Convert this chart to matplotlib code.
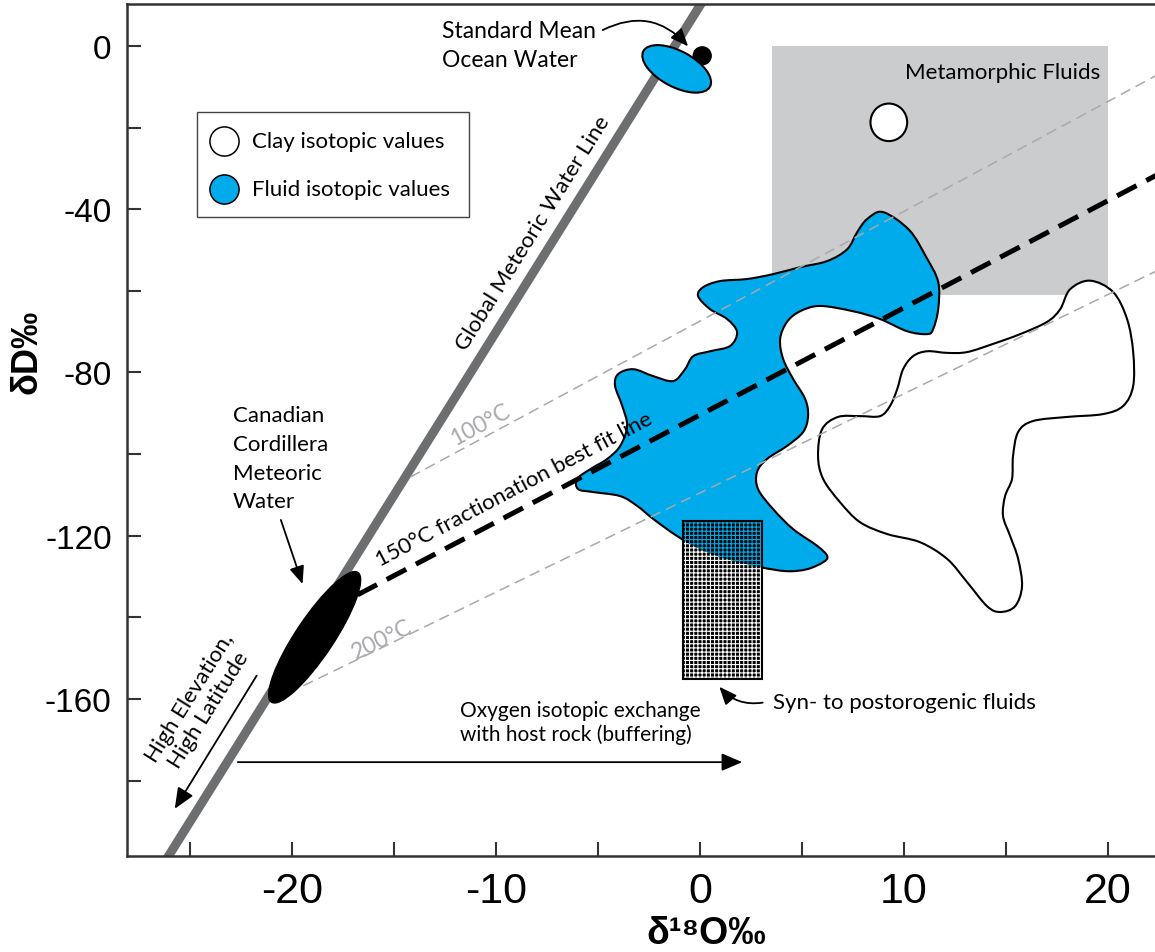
import numpy as np
import matplotlib
matplotlib.use("Agg")
import matplotlib.pyplot as plt
from matplotlib.patches import Rectangle, Ellipse, PathPatch
from matplotlib.path import Path
from matplotlib.transforms import Affine2D

plt.rcParams["font.family"] = ["Lato", "DejaVu Sans"]
plt.rcParams["hatch.linewidth"] = 0.8

# axis ticks
x_major = [-20, -10, 0, 10, 20]
x_minor = [-25, -15, -5, 5, 15]
y_major = [0, -40, -80, -120, -160]
y_minor = [-20, -60, -100, -140, -180]

# reference lines (d18O, dD)
gmwl_x = [-27.0, 0.5]
gmwl_y = [-206.0, 14.0]
frac100_x = [-14.2, 23.0]
frac100_y = [-105.6, -5.5]
frac150_x = [-16.8, 23.0]
frac150_y = [-134.5, -30.0]
frac200_x = [-20.2, 23.0]
frac200_y = [-158.6, -53.6]

# fluid isotopic values field
fluid_x = [8.97, 10.25, 11.08, 11.67, 11.67, 11.42, 11.13, 10.15, 8.82, 7.50,
           5.88, 4.90, 4.26, 3.92, 4.07, 4.56, 5.15, 5.29, 5.05, 4.26,
           3.28, 2.79, 2.84, 3.58, 4.56, 5.74, 6.23, 6.03, 5.25, 4.26,
           2.94, 1.32, 0.00, -1.13, -2.30, -3.09, -3.92, -5.25, -5.98, -6.03,
           -5.39, -4.56, -3.92, -3.58, -3.82, -4.17, -4.02, -3.28, -2.30, -1.32,
           -0.74, -0.34, 0.49, 1.47, 1.81, 1.32, 0.49, -0.10, 0.15, 0.98,
           2.30, 3.58, 4.90, 6.23, 7.21, 7.70, 8.19]
fluid_y = [-40.7, -45.1, -51.7, -57.8, -64.5, -69.4, -70.6, -69.9, -66.9, -65.0,
           -63.7, -65.0, -67.6, -71.8, -76.7, -81.6, -86.5, -90.7, -94.6, -98.0,
           -101.2, -104.4, -108.6, -113.5, -118.4, -122.5, -125.0, -126.5, -128.2, -128.7,
           -127.7, -125.7, -123.3, -120.1, -115.9, -112.7, -110.3, -109.3, -108.6, -106.1,
           -103.7, -101.2, -98.0, -93.1, -88.2, -83.3, -80.4, -79.2, -80.9, -82.1,
           -79.2, -76.0, -74.8, -73.5, -70.1, -66.9, -64.5, -61.3, -59.1, -57.6,
           -57.1, -55.9, -54.2, -52.7, -49.8, -45.6, -42.4]

# clay isotopic values field
clay_x = [19.12, 20.25, 20.93, 21.23, 21.23, 20.74, 19.75, 17.99, 16.32, 15.59,
          15.34, 15.29, 14.95, 14.85, 15.20, 15.59, 15.78, 15.44, 14.71, 14.07,
          13.09, 12.11, 10.78, 9.17, 7.84, 6.86, 6.03, 5.78, 5.98, 6.76,
          7.84, 8.82, 9.31, 9.66, 9.95, 10.44, 11.13, 12.11, 13.09, 14.36,
          15.69, 17.01, 17.65, 18.14]
clay_y = [-57.5, -60.3, -66.9, -75.0, -83.3, -88.2, -90.2, -90.9, -91.9, -94.6,
          -100.5, -106.1, -110.3, -115.2, -120.1, -125.7, -132.4, -137.3, -138.7, -137.3,
          -131.4, -125.7, -121.6, -119.6, -116.7, -111.8, -106.1, -100.5, -93.9, -90.9,
          -90.7, -90.7, -88.2, -84.1, -79.2, -76.0, -74.8, -75.2, -75.0, -73.0,
          -70.6, -67.6, -64.5, -59.6]

# single values
smow = (0.1, -2.4)
smow_fluid = (-1.15, -5.6)
ccmw = (-18.9, -144.9)
clay_point = (9.25, -18.7)

# fields
metamorphic_x = [3.5, 20.0]
metamorphic_y = [-61.0, 0.0]
synpost_x = [-0.85, 3.05]
synpost_y = [-155.0, -116.3]

BLUE = "#00abeb"
GREY_LINE = "#6d6e70"
GREY_DASH = "#a7a9ac"
GREY_BOX = "#cbccce"
X_SCALE = 5.0  # makes x*5 vs y isotropic on screen


def closed_curve(xs, ys):
    # smooth closed outline through the traced points (Catmull-Rom as cubic beziers)
    p = np.column_stack([np.asarray(xs) * X_SCALE, ys])
    n = len(p)
    verts = [p[0]]
    codes = [Path.MOVETO]
    for i in range(n):
        p0, p1, p2, p3 = p[i - 1], p[i], p[(i + 1) % n], p[(i + 2) % n]
        verts += [p1 + (p2 - p0) / 6, p2 - (p3 - p1) / 6, p2]
        codes += [Path.CURVE4] * 3
    return Path(verts, codes)


fig = plt.figure(figsize=(11.55, 9.53), dpi=100)
ax = fig.add_axes([127 / 1155, 96 / 953, 1028 / 1155, 852 / 953])
ax.set_xlim(-28.1, 22.3)
ax.set_ylim(-198.5, 10.3)
iso = Affine2D().scale(1 / X_SCALE, 1) + ax.transData

# metamorphic box
ax.add_patch(Rectangle((metamorphic_x[0], metamorphic_y[0]), metamorphic_x[1] - metamorphic_x[0],
                       metamorphic_y[1] - metamorphic_y[0], facecolor=GREY_BOX, edgecolor="none", zorder=1))
ax.text(19.6, -6.4, "Metamorphic Fluids", ha="right", va="center", fontsize=16, zorder=8)

# GMWL
ax.plot(gmwl_x, gmwl_y, color=GREY_LINE, lw=6.5, solid_capstyle="butt", zorder=2)
ax.text(-8.2, -45.6, "Global Meteoric Water Line", rotation=58, rotation_mode="anchor",
        ha="center", va="center", fontsize=16, zorder=8)

# fields
fluid = PathPatch(closed_curve(fluid_x, fluid_y), facecolor=BLUE, edgecolor="black",
                  lw=1.5, transform=iso, zorder=3)
ax.add_patch(fluid)
ax.add_patch(PathPatch(closed_curve(clay_x, clay_y), facecolor="white", edgecolor="black",
                       lw=1.5, transform=iso, zorder=3))

# SMOW
ax.add_patch(Ellipse((smow[0] * X_SCALE, smow[1]), 4.4, 4.4, facecolor="black",
                     edgecolor="black", transform=iso, zorder=3))
ax.add_patch(Ellipse((smow_fluid[0] * X_SCALE, smow_fluid[1]), 18.5, 8.8, angle=-28,
                     facecolor=BLUE, edgecolor="black", lw=1.5, transform=iso, zorder=4))
ax.annotate("", xy=(-0.5, -0.6), xytext=(-4.9, 3.6),
            arrowprops=dict(arrowstyle="-|>,head_length=0.6,head_width=0.25", color="black",
                            lw=1.3, connectionstyle="arc3,rad=-0.4", mutation_scale=18), zorder=8)
ax.text(-12.65, 0.3, "Standard Mean\nOcean Water", ha="left", va="center", fontsize=16.5,
        linespacing=1.45, zorder=8)

# clay point
ax.add_patch(Ellipse((clay_point[0] * X_SCALE, clay_point[1]), 9.0, 9.2, facecolor="white",
                     edgecolor="black", lw=1.5, transform=iso, zorder=3))

# fractionation lines
ax.plot(frac100_x, frac100_y, color=GREY_DASH, lw=1.1, dashes=(7, 4), zorder=5)
ax.plot(frac200_x, frac200_y, color=GREY_DASH, lw=1.1, dashes=(7, 4), zorder=5)
ax.plot(frac150_x, frac150_y, color="black", lw=3.6, dashes=(4.4, 2.2), zorder=6)
ax.text(-10.8, -92.6, "100°C", rotation=28.3, rotation_mode="anchor", ha="center", va="center",
        fontsize=16.5, color=GREY_DASH, zorder=8)
ax.text(-15.6, -145.3, "200°C", rotation=26, rotation_mode="anchor", ha="center", va="center",
        fontsize=16.5, color=GREY_DASH, zorder=8)
ax.text(-9.1, -108.6, "150°C fractionation best fit line", rotation=27.7, rotation_mode="anchor",
        ha="center", va="center", fontsize=16, zorder=8)

# syn- to postorogenic fluids
sx, sy = synpost_x[0], synpost_y[0]
sw, sh = synpost_x[1] - synpost_x[0], synpost_y[1] - synpost_y[0]
ax.add_patch(Rectangle((sx, sy), sw, sh, facecolor="black", edgecolor="white", hatch="++++",
                       lw=0, zorder=6))
blue_hatch = Rectangle((sx, sy), sw, sh, facecolor="black", edgecolor=BLUE, hatch="++++",
                       lw=0, zorder=6.1)
ax.add_patch(blue_hatch)
blue_hatch.set_clip_path(fluid)
ax.add_patch(Rectangle((sx, sy), sw, sh, facecolor="none", edgecolor="black", lw=1.5, zorder=6.2))
ax.annotate("", xy=(0.85, -156.5), xytext=(3.2, -160.8),
            arrowprops=dict(arrowstyle="-|>,head_length=0.6,head_width=0.25", color="black",
                            lw=1.3, connectionstyle="arc3,rad=-0.3", mutation_scale=18), zorder=8)
ax.text(3.55, -160.8, "Syn- to postorogenic fluids", ha="left", va="center", fontsize=16, zorder=8)

# Canadian Cordillera meteoric water
ax.add_patch(Ellipse((ccmw[0] * X_SCALE, ccmw[1]), 38.2, 9.3, angle=56.3, facecolor="black",
                     edgecolor="black", transform=iso, zorder=7))
ax.annotate("", xy=(-19.45, -132.5), xytext=(-20.6, -115.5),
            arrowprops=dict(arrowstyle="-|>,head_length=0.6,head_width=0.25", color="black",
                            lw=1.3, mutation_scale=18), zorder=8)
ax.text(-22.9, -101.0, "Canadian\nCordillera\nMeteoric\nWater", ha="left", va="center",
        fontsize=16, linespacing=1.55, zorder=8)

# buffering arrow
ax.annotate("", xy=(2.2, -175.5), xytext=(-22.8, -175.5),
            arrowprops=dict(arrowstyle="-|>,head_length=0.7,head_width=0.3", color="black",
                            lw=1.3, mutation_scale=18), zorder=8)
ax.text(-11.76, -165.7, "Oxygen isotopic exchange\nwith host rock (buffering)", ha="left",
        va="center", fontsize=15, linespacing=1.2, zorder=8)

# high elevation arrow
ax.annotate("", xy=(-25.83, -187.5), xytext=(-21.67, -153.7),
            arrowprops=dict(arrowstyle="-|>,head_length=0.7,head_width=0.3", color="black",
                            lw=1.3, mutation_scale=18), zorder=8)
ax.text(-24.55, -161.0, "High Elevation,\nHigh Latitude", rotation=58, rotation_mode="anchor",
        ha="center", va="center", fontsize=16, linespacing=1.15, zorder=8)

# legend
ax.add_patch(Rectangle((0.0681, 0.75), 0.2646, 0.1232, transform=ax.transAxes, facecolor="white",
                       edgecolor="#444444", lw=1.0, zorder=8))
ax.plot([0.0944], [0.8392], "o", ms=21, mfc="white", mec="black", mew=1.1,
        transform=ax.transAxes, zorder=9)
ax.plot([0.0944], [0.7829], "o", ms=21, mfc=BLUE, mec="black", mew=1.1,
        transform=ax.transAxes, zorder=9)
ax.text(0.1216, 0.8392, "Clay isotopic values", transform=ax.transAxes, ha="left", va="center",
        fontsize=16, zorder=9)
ax.text(0.1216, 0.7829, "Fluid isotopic values", transform=ax.transAxes, ha="left", va="center",
        fontsize=16, zorder=9)

# axes styling
ax.spines["right"].set_visible(False)
for side in ["left", "bottom", "top"]:
    ax.spines[side].set_linewidth(1.8)
    ax.spines[side].set_color("#333333")
ax.set_xticks(x_major)
ax.set_xticks(x_minor, minor=True)
ax.set_yticks(y_major)
ax.set_yticks(y_minor, minor=True)
ax.set_xticklabels([str(v) for v in x_major], family=["Liberation Sans Narrow", "Liberation Sans"],
                   fontsize=31)
ax.set_yticklabels([str(v) for v in y_major], family=["Liberation Sans", "DejaVu Sans"], fontsize=24)
ax.tick_params(which="both", direction="in", length=10, width=1.5, color="#333333",
               top=False, right=False)
ax.tick_params(axis="x", which="both", pad=11)
ax.tick_params(axis="y", which="both", pad=11)

ax.set_xlabel("δ¹⁸O‰", family=["Liberation Sans Narrow", "Liberation Sans", "DejaVu Sans"],
              fontsize=27, fontweight="bold")
ax.xaxis.set_label_coords(0.563, -0.069)
ax.set_ylabel("δD‰", family=["Liberation Sans", "DejaVu Sans"], fontsize=26, fontweight="bold")
ax.yaxis.set_label_coords(-0.08, 0.593)

fig.savefig("out.png", dpi=100)
